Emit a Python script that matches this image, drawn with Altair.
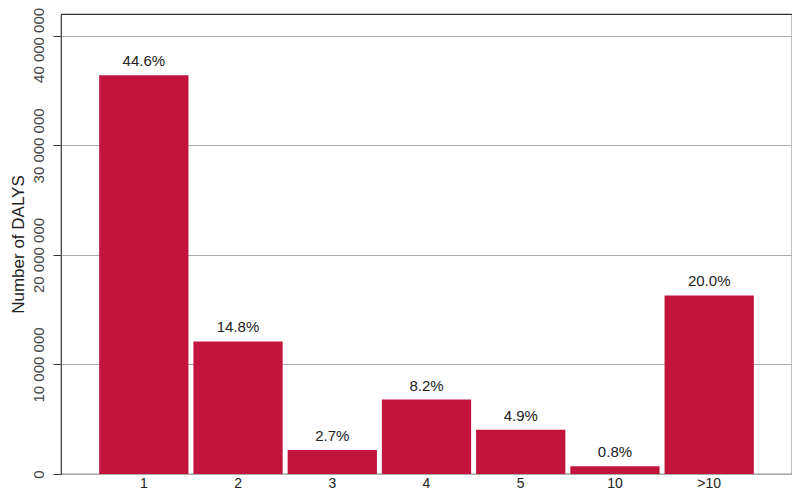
import altair as alt
import pandas as pd

categories = ["1", "2", "3", "4", "5", "10", ">10"]
dalys = [36400000, 12100000, 2200000, 6800000, 4050000, 700000, 16300000]
pct_labels = ["44.6%", "14.8%", "2.7%", "8.2%", "4.9%", "0.8%", "20.0%"]
y_ticks = [0, 10000000, 20000000, 30000000, 40000000]

df = pd.DataFrame({"cat": categories, "val": dalys, "pct": pct_labels})

FONT = "Liberation Sans"

x_enc = alt.X("cat:N", sort=categories,
              scale=alt.Scale(paddingInner=0.0526, paddingOuter=0.405),
              axis=alt.Axis(title=None, labelAngle=0, domain=False, ticks=False,
                            labelPadding=2, labelFontSize=14, labelColor="#222",
                            labelFont=FONT, grid=False))
y_scale = alt.Scale(domain=[0, 42000000], nice=False, zero=True)

bars = alt.Chart(df).mark_bar(color="#C3143E").encode(
    x=x_enc,
    y=alt.Y("val:Q", scale=y_scale,
            axis=alt.Axis(title="Number of DALYS", values=y_ticks,
                          labelExpr="replace(format(datum.value, ','), regexp(',', 'g'), ' ')",
                          labelAngle=-90, labelAlign="center", labelBaseline="bottom",
                          labelPadding=7, labelFontSize=15, labelColor="#444", labelFont=FONT,
                          labelOffset={"condition": {"test": "datum.value >= 40000000", "value": 9},
                                       "value": 0},
                          tickSize=8, tickColor="#333", domain=False,
                          grid=True, gridColor="#aaaaaa", gridWidth=1,
                          titleFont=FONT, titleFontSize=17, titleFontWeight="normal",
                          titleColor="#222", titleX=-43, titleAngle=-90,
                          titleBaseline="middle")),
)

text = alt.Chart(df).mark_text(baseline="middle", dy=-14, fontSize=15,
                               color="#222", font=FONT).encode(
    x=alt.X("cat:N", sort=categories),
    y=alt.Y("val:Q", scale=y_scale),
    text="pct:N",
)

chart = (bars + text).properties(
    width=731, height=460,
    background="white",
    autosize=alt.AutoSizeParams(type="none"),
    padding={"left": 53, "top": 6, "right": 0, "bottom": 19},
).configure_view(stroke="#333", strokeWidth=1.2)

chart.save("out.html", embed_options={"renderer": "svg", "actions": False})
